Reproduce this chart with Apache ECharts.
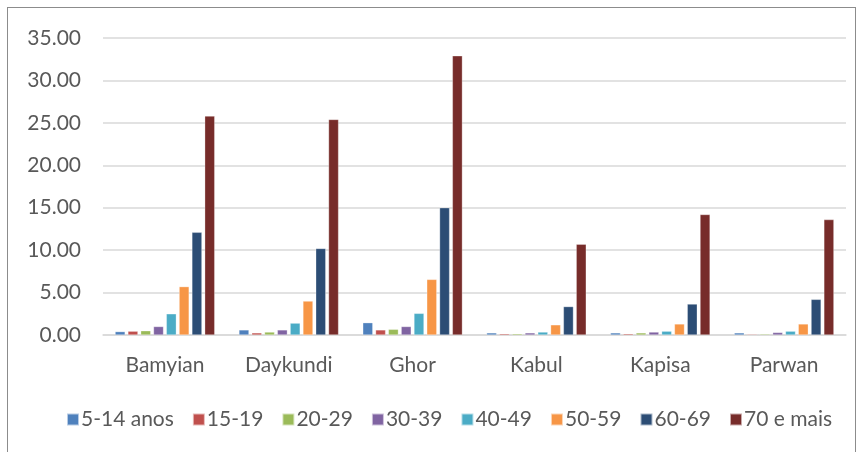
<!DOCTYPE html>
<html>
<head>
<meta charset="utf-8">
<script src="https://cdn.jsdelivr.net/npm/echarts@6/dist/echarts.min.js"></script>
<style>
  html, body { margin: 0; padding: 0; background: #fff; }
  #box { position: absolute; left: 7px; top: 7px; width: 849px; height: 452px; border: 1px solid #8c8c8c; box-sizing: border-box; }
  #chart { position: absolute; left: 0; top: 0; width: 865px; height: 452px; }
</style>
</head>
<body>
<div id="box"></div>
<div id="chart"></div>
<script>
const provinces = ['Bamyian', 'Daykundi', 'Ghor', 'Kabul', 'Kapisa', 'Parwan'];
const ageGroups = ['5-14 anos', '15-19', '20-29', '30-39', '40-49', '50-59', '60-69', '70 e mais'];
const colors = ['#4F81BD', '#C0504D', '#9BBB59', '#8064A2', '#4BACC6', '#F79646', '#2C4D75', '#772C2A'];

// values per age group, in province order
const age5_14  = [0.40, 0.60, 1.45, 0.25, 0.25, 0.25];
const age15_19 = [0.45, 0.25, 0.60, 0.15, 0.15, 0.10];
const age20_29 = [0.50, 0.35, 0.67, 0.15, 0.25, 0.12];
const age30_39 = [1.00, 0.60, 1.00, 0.25, 0.35, 0.30];
const age40_49 = [2.50, 1.40, 2.55, 0.35, 0.45, 0.45];
const age50_59 = [5.70, 4.00, 6.55, 1.20, 1.30, 1.30];
const age60_69 = [12.1, 10.2, 15.0, 3.35, 3.65, 4.20];
const age70    = [25.8, 25.4, 32.9, 10.7, 14.2, 13.6];
const values = [age5_14, age15_19, age20_29, age30_39, age40_49, age50_59, age60_69, age70];

const font = 'Lato, "Open Sans", sans-serif';

const chart = echarts.init(document.getElementById('chart'));
chart.setOption({
  animation: false,
  color: colors,
  textStyle: { fontFamily: font },
  grid: { left: 103, right: 19, top: 38, bottom: 117, containLabel: false },
  legend: {
    data: ageGroups,
    top: 404,
    left: 61,
    itemWidth: 12,
    itemHeight: 12,
    itemGap: 18,
    icon: 'rect',
    textStyle: { fontFamily: font, fontSize: 21, color: '#595959', padding: [0, 0, 0, -3] }
  },
  xAxis: {
    type: 'category',
    data: provinces,
    axisLine: { lineStyle: { color: '#d9d9d9', width: 1.5 } },
    axisTick: { show: false },
    axisLabel: { fontFamily: font, fontSize: 21, color: '#595959', margin: 20 }
  },
  yAxis: {
    type: 'value',
    min: 0, max: 35, interval: 5,
    axisLine: { show: false },
    axisTick: { show: false },
    splitLine: { lineStyle: { color: '#d9d9d9', width: 1.5 } },
    axisLabel: {
      fontFamily: font, fontSize: 21, color: '#595959', margin: 22,
      formatter: v => v.toFixed(2)
    }
  },
  series: ageGroups.map((name, i) => ({
    name: name,
    type: 'bar',
    data: values[i],
    barWidth: 10,
    barGap: '28%',
    itemStyle: { borderColor: 'rgba(255,255,255,0.6)', borderWidth: 0.5 }
  }))
});
</script>
</body>
</html>
